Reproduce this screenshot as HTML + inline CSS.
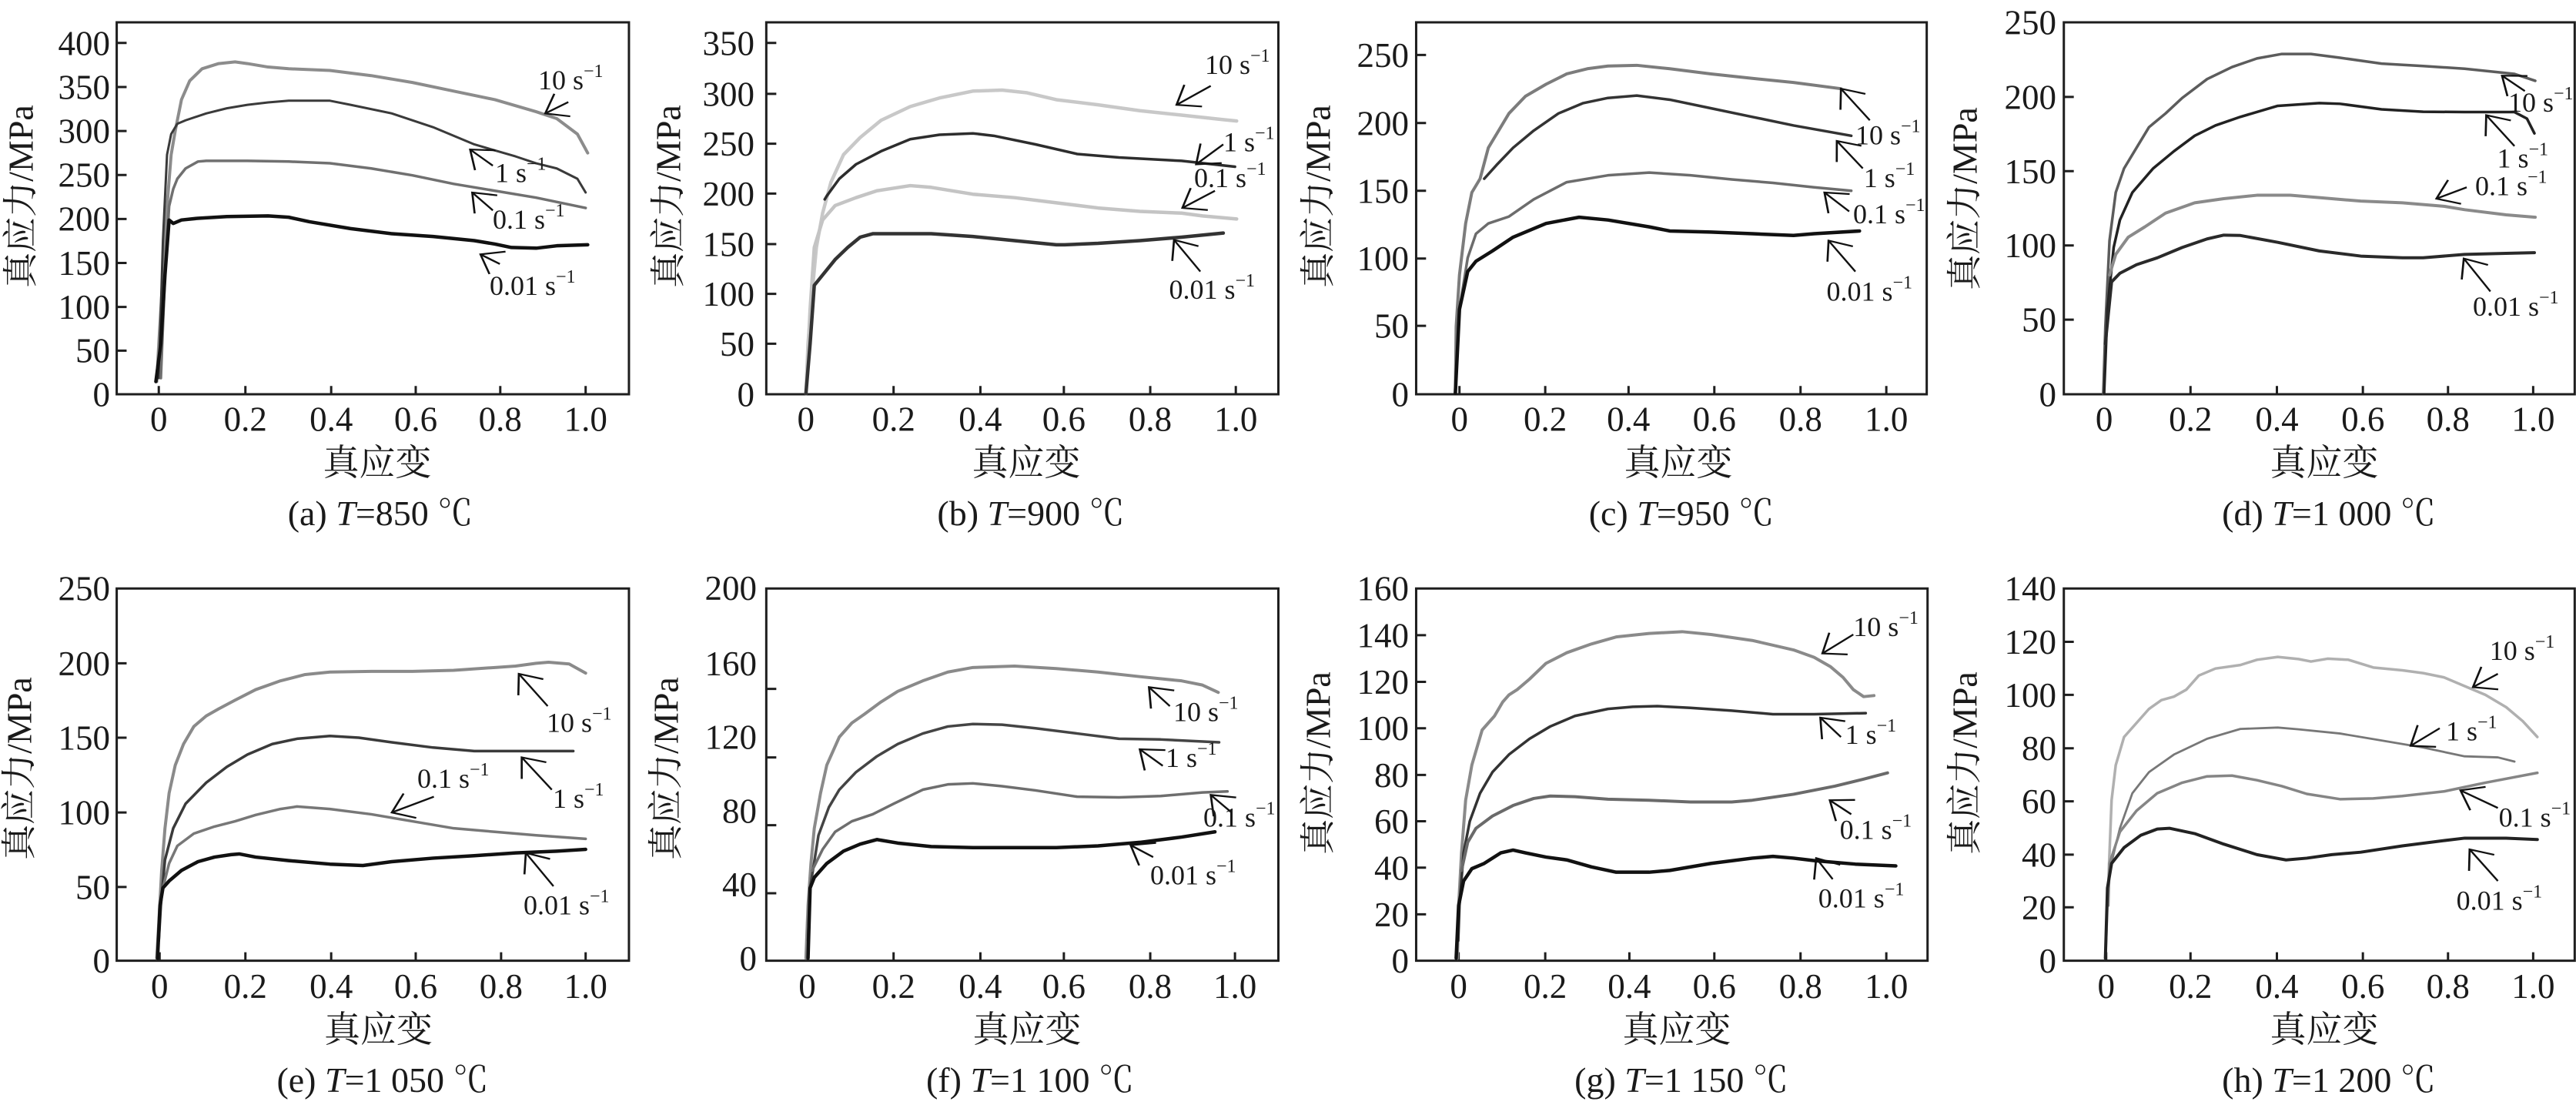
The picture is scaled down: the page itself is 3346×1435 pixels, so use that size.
<!DOCTYPE html>
<html><head><meta charset="utf-8">
<style>
html,body{margin:0;padding:0;background:#fff;}
svg{display:block;}
text{font-family:"Liberation Serif","Noto Serif CJK SC",serif;fill:#1a1a1a;}
.tk{font-size:45px;}
.lb{font-size:36px;}
.sp{font-size:24px;}
.cap{font-size:46px;}
.cn{font-size:47px;font-family:"Liberation Serif","Noto Serif CJK SC",serif;}
.yl{font-size:46px;}
.fr{fill:none;stroke:#1e1e1e;stroke-width:3;vector-effect:non-scaling-stroke;}
.tc{fill:none;stroke:#1e1e1e;stroke-width:3;vector-effect:non-scaling-stroke;}
.c{fill:none;vector-effect:non-scaling-stroke;stroke-linejoin:round;stroke-linecap:round;}
.ar{fill:none;stroke:#111;stroke-width:2.4;vector-effect:non-scaling-stroke;}
</style></head>
<body>
<svg width="3346" height="1435" viewBox="0 0 3346 1435" xmlns="http://www.w3.org/2000/svg">
<defs>
<marker id="ah" markerUnits="userSpaceOnUse" orient="auto" refX="0" refY="0" markerWidth="1" markerHeight="1" overflow="visible">
<path d="M48,-38 L0,0 L48,38" fill="none" stroke="#111" stroke-width="5"/>
</marker>
</defs>
<rect width="3346" height="1435" fill="#fff"/>

<!-- ===== Panel a ===== -->
<g transform="translate(0,0) scale(0.5357,0.4464)">
<rect class="fr" x="283" y="65" width="1242" height="1082"/>
<path class="tc" d="M283,125h24M283,253h24M283,381h24M283,509h24M283,637h24M283,765h24M283,893h24M283,1020h24M385,1147v-24M595,1147v-24M803,1147v-24M1008,1147v-24M1213,1147v-24M1420,1147v-24"/>
<polyline class="c" stroke="#8c8c8c" stroke-width="4" points="380,1110 385,1000 395,800 405,600 415,450 425,380 440,290 460,235 490,200 530,185 570,180 600,185 650,195 700,200 800,205 900,220 1000,240 1100,265 1200,290 1300,325 1350,345 1400,390 1425,445"/>
<polyline class="c" stroke="#3a3a3a" stroke-width="3" points="385,1100 395,700 405,450 415,390 430,360 450,350 500,330 550,315 600,305 650,298 700,293 800,293 850,305 950,330 1050,370 1150,420 1250,455 1300,475 1350,490 1400,520 1420,560"/>
<polyline class="c" stroke="#707070" stroke-width="3.5" points="390,1100 400,800 410,600 420,550 430,520 450,490 480,470 500,468 600,468 700,470 800,475 900,490 1000,510 1100,535 1200,555 1300,575 1420,605"/>
<polyline class="c" stroke="#111" stroke-width="4.5" points="378,1110 390,1000 400,800 410,640 420,650 440,640 480,635 550,630 650,628 700,632 750,645 850,665 950,680 1050,688 1150,700 1200,710 1240,720 1300,722 1350,715 1425,712"/>
<line class="ar" x1="1322" y1="330" x2="1378" y2="297" marker-start="url(#ah)"/>
<line class="ar" x1="1140" y1="435" x2="1195" y2="482" marker-start="url(#ah)"/>
<line class="ar" x1="1145" y1="560" x2="1195" y2="612" marker-start="url(#ah)"/>
<line class="ar" x1="1165" y1="740" x2="1212" y2="768" marker-start="url(#ah)"/>
</g>
<g class="tk" text-anchor="end" transform="translate(0,1.5)">
<text x="143" y="69.8">400</text>
<text x="143" y="127">350</text>
<text x="143" y="184">300</text>
<text x="143" y="241">250</text>
<text x="143" y="298">200</text>
<text x="143" y="355.5">150</text>
<text x="143" y="412.6">100</text>
<text x="143" y="469">50</text>
<text x="143" y="526">0</text>
</g>
<g class="tk" text-anchor="middle">
<text x="206.2" y="559.5">0</text>
<text x="318.7" y="559.5">0.2</text>
<text x="430.2" y="559.5">0.4</text>
<text x="540" y="559.5">0.6</text>
<text x="649.8" y="559.5">0.8</text>
<text x="760.7" y="559.5">1.0</text>
</g>
<g class="lb">
<text x="699" y="116">10 s<tspan class="sp" dy="-16">−1</tspan></text>
<text x="643" y="236.6">1 s<tspan class="sp" dy="-16">−1</tspan></text>
<text x="640" y="297">0.1 s<tspan class="sp" dy="-16">−1</tspan></text>
<text x="636" y="383">0.01 s<tspan class="sp" dy="-16">−1</tspan></text>
</g>
<text class="yl" text-anchor="middle" dominant-baseline="central" transform="translate(27,255) rotate(-90)">真应力/MPa</text>
<text class="cn" text-anchor="middle" x="490" y="617">真应变</text>
<text class="cap" text-anchor="middle" x="494" y="682">(a) <tspan font-style="italic">T</tspan>=850 ℃</text>

<!-- ===== Panel b ===== -->
<g transform="translate(830,0) scale(0.5421,0.4464)">
<rect class="fr" x="305" y="65" width="1227" height="1082"/>
<path class="tc" d="M305,125h24M305,273h24M305,418h24M305,563h24M305,710h24M305,855h24M305,1000h24M400,1147v-24M610,1147v-24M818,1147v-24M1018,1147v-24M1225,1147v-24M1430,1147v-24"/>
<polyline class="c" stroke="#c8c8c8" stroke-width="4.5" points="400,1145 405,1000 415,850 425,720 440,620 460,530 490,450 530,400 580,350 650,310 720,285 800,265 870,262 930,270 1000,290 1100,305 1200,322 1300,335 1400,348 1432,352"/>
<polyline class="c" stroke="#2d2d2d" stroke-width="3.5" points="445,580 450,570 480,520 520,478 580,440 650,405 720,392 800,388 850,395 950,420 1050,448 1150,458 1300,468 1428,485"/>
<polyline class="c" stroke="#c4c4c4" stroke-width="4.5" points="402,1100 410,900 420,720 440,640 470,598 520,575 570,555 650,540 700,545 800,565 900,575 1000,590 1100,605 1200,615 1300,620 1350,628 1432,637"/>
<polyline class="c" stroke="#333" stroke-width="4.5" points="400,1145 410,1000 420,830 440,800 470,755 500,720 530,690 560,680 600,680 700,680 800,688 900,700 1000,712 1020,712 1100,708 1200,700 1300,690 1400,678"/>
<line class="ar" x1="1288" y1="305" x2="1370" y2="250" marker-start="url(#ah)"/>
<line class="ar" x1="1335" y1="478" x2="1400" y2="420" marker-start="url(#ah)"/>
<line class="ar" x1="1302" y1="605" x2="1380" y2="555" marker-start="url(#ah)"/>
<line class="ar" x1="1282" y1="698" x2="1345" y2="790" marker-start="url(#ah)"/>
</g>
<g class="tk" text-anchor="end" transform="translate(0,1.5)">
<text x="980" y="69.8">350</text>
<text x="980" y="135.9">300</text>
<text x="980" y="200.6">250</text>
<text x="980" y="265.3">200</text>
<text x="980" y="331">150</text>
<text x="980" y="395.7">100</text>
<text x="980" y="460.4">50</text>
<text x="980" y="526">0</text>
</g>
<g class="tk" text-anchor="middle">
<text x="1046.8" y="559.5">0</text>
<text x="1160.7" y="559.5">0.2</text>
<text x="1273.4" y="559.5">0.4</text>
<text x="1381.9" y="559.5">0.6</text>
<text x="1494" y="559.5">0.8</text>
<text x="1605.2" y="559.5">1.0</text>
</g>
<g class="lb">
<text x="1565" y="96">10 s<tspan class="sp" dy="-16">−1</tspan></text>
<text x="1589" y="196.4">1 s<tspan class="sp" dy="-16">−1</tspan></text>
<text x="1551" y="243">0.1 s<tspan class="sp" dy="-16">−1</tspan></text>
<text x="1518.5" y="388">0.01 s<tspan class="sp" dy="-16">−1</tspan></text>
</g>
<text class="yl" text-anchor="middle" dominant-baseline="central" transform="translate(868,255) rotate(-90)">真应力/MPa</text>
<text class="cn" text-anchor="middle" x="1333" y="617">真应变</text>
<text class="cap" text-anchor="middle" x="1339" y="682">(b) <tspan font-style="italic">T</tspan>=900 ℃</text>

<!-- ===== Panel c ===== -->
<g transform="translate(1660,0) scale(0.5357,0.4464)">
<rect class="fr" x="335" y="65" width="1238" height="1082"/>
<path class="tc" d="M335,160h24M335,358h24M335,555h24M335,752h24M335,948h24M440,1147v-24M648,1147v-24M850,1147v-24M1058,1147v-24M1267,1147v-24M1475,1147v-24"/>
<polyline class="c" stroke="#7c7c7c" stroke-width="4" points="430,1145 432,950 440,800 455,650 470,560 490,520 510,430 530,390 560,330 600,280 650,245 700,215 750,200 800,192 870,190 950,200 1050,215 1150,228 1250,240 1365,258"/>
<polyline class="c" stroke="#333" stroke-width="3.5" points="500,520 530,480 570,430 620,380 680,330 740,300 800,285 870,278 950,290 1050,315 1150,340 1250,365 1390,395"/>
<polyline class="c" stroke="#6c6c6c" stroke-width="3.5" points="430,1145 440,900 460,750 480,680 510,650 560,630 620,580 700,530 800,510 900,502 1000,510 1100,522 1200,532 1300,545 1390,555"/>
<polyline class="c" stroke="#111" stroke-width="4.5" points="430,1145 440,900 460,790 480,760 520,730 570,690 650,650 730,632 800,640 900,660 950,672 1050,675 1150,680 1250,685 1300,680 1410,672"/>
<line class="ar" x1="1365" y1="258" x2="1435" y2="350" marker-start="url(#ah)"/>
<line class="ar" x1="1355" y1="410" x2="1418" y2="490" marker-start="url(#ah)"/>
<line class="ar" x1="1325" y1="560" x2="1385" y2="615" marker-start="url(#ah)"/>
<line class="ar" x1="1335" y1="700" x2="1400" y2="790" marker-start="url(#ah)"/>
</g>
<g class="tk" text-anchor="end" transform="translate(0,1.5)">
<text x="1830" y="85.4">250</text>
<text x="1830" y="173.8">200</text>
<text x="1830" y="261.8">150</text>
<text x="1830" y="349.7">100</text>
<text x="1830" y="437.2">50</text>
<text x="1830" y="526">0</text>
</g>
<g class="tk" text-anchor="middle">
<text x="1895.7" y="559.5">0</text>
<text x="2007.1" y="559.5">0.2</text>
<text x="2115.3" y="559.5">0.4</text>
<text x="2226.8" y="559.5">0.6</text>
<text x="2338.7" y="559.5">0.8</text>
<text x="2450.2" y="559.5">1.0</text>
</g>
<g class="lb">
<text x="2410" y="187.5">10 s<tspan class="sp" dy="-16">−1</tspan></text>
<text x="2420.7" y="243">1 s<tspan class="sp" dy="-16">−1</tspan></text>
<text x="2407" y="290">0.1 s<tspan class="sp" dy="-16">−1</tspan></text>
<text x="2372.5" y="390.6">0.01 s<tspan class="sp" dy="-16">−1</tspan></text>
</g>
<text class="yl" text-anchor="middle" dominant-baseline="central" transform="translate(1712,255) rotate(-90)">真应力/MPa</text>
<text class="cn" text-anchor="middle" x="2180" y="617">真应变</text>
<text class="cap" text-anchor="middle" x="2184" y="682">(c) <tspan font-style="italic">T</tspan>=950 ℃</text>

<!-- ===== Panel d ===== -->
<g transform="translate(2500,0) scale(0.5395,0.4464)">
<rect class="fr" x="335" y="65" width="1230" height="1082"/>
<path class="tc" d="M335,282h24M335,498h24M335,714h24M335,930h24M432,1147v-24M640,1147v-24M848,1147v-24M1055,1147v-24M1260,1147v-24M1465,1147v-24"/>
<polyline class="c" stroke="#5c5c5c" stroke-width="3.5" points="430,1145 435,950 445,700 460,560 480,490 510,430 540,370 580,330 620,285 680,230 740,195 800,170 860,157 930,157 1000,168 1100,185 1200,192 1300,200 1380,210 1420,215 1470,235"/>
<polyline class="c" stroke="#222" stroke-width="3.5" points="432,1145 440,900 455,720 470,640 500,560 550,490 600,440 650,395 700,365 760,340 850,308 950,300 1000,302 1100,318 1200,325 1300,326 1420,326 1450,345 1468,388"/>
<polyline class="c" stroke="#8a8a8a" stroke-width="4" points="445,800 460,740 490,690 530,660 580,620 650,590 720,578 800,568 880,568 950,575 1050,585 1150,590 1250,600 1300,610 1400,625 1470,632"/>
<polyline class="c" stroke="#2a2a2a" stroke-width="4" points="435,1000 450,820 470,795 510,770 560,750 620,720 680,695 720,684 760,685 850,705 950,730 1050,745 1150,750 1200,750 1300,740 1400,737 1468,735"/>
<line class="ar" x1="1390" y1="220" x2="1445" y2="265" marker-start="url(#ah)"/>
<line class="ar" x1="1352" y1="335" x2="1420" y2="425" marker-start="url(#ah)"/>
<line class="ar" x1="1232" y1="578" x2="1305" y2="545" marker-start="url(#ah)"/>
<line class="ar" x1="1298" y1="752" x2="1362" y2="848" marker-start="url(#ah)"/>
</g>
<g class="tk" text-anchor="end" transform="translate(0,1.5)">
<text x="2671" y="43">250</text>
<text x="2671" y="139.9">200</text>
<text x="2671" y="236.3">150</text>
<text x="2671" y="332.7">100</text>
<text x="2671" y="429.2">50</text>
<text x="2671" y="526">0</text>
</g>
<g class="tk" text-anchor="middle">
<text x="2733.1" y="559.5">0</text>
<text x="2845.3" y="559.5">0.2</text>
<text x="2957.5" y="559.5">0.4</text>
<text x="3069.2" y="559.5">0.6</text>
<text x="3179.8" y="559.5">0.8</text>
<text x="3290.4" y="559.5">1.0</text>
</g>
<g class="lb">
<text x="3258" y="145">10 s<tspan class="sp" dy="-16">−1</tspan></text>
<text x="3243.5" y="217.4">1 s<tspan class="sp" dy="-16">−1</tspan></text>
<text x="3215" y="253.6">0.1 s<tspan class="sp" dy="-16">−1</tspan></text>
<text x="3212" y="409.8">0.01 s<tspan class="sp" dy="-16">−1</tspan></text>
</g>
<text class="yl" text-anchor="middle" dominant-baseline="central" transform="translate(2552,258) rotate(-90)">真应力/MPa</text>
<text class="cn" text-anchor="middle" x="3019" y="617">真应变</text>
<text class="cap" text-anchor="middle" x="3025" y="682">(d) <tspan font-style="italic">T</tspan>=1 000 ℃</text>

<!-- ===== Panel e ===== -->
<g transform="translate(0,720) scale(0.5357,0.456)">
<rect class="fr" x="283" y="97" width="1242" height="1060"/>
<path class="tc" d="M283,310h24M283,522h24M283,735h24M283,947h24M387,1157v-24M595,1157v-24M803,1157v-24M1008,1157v-24M1215,1157v-24M1420,1157v-24"/>
<polyline class="c" stroke="#8a8a8a" stroke-width="4" points="380,1150 385,1050 392,900 400,780 410,680 425,600 445,540 470,490 500,460 530,440 570,415 620,385 680,360 740,342 800,335 900,333 1000,333 1100,330 1200,322 1250,318 1300,310 1330,307 1380,312 1420,338"/>
<polyline class="c" stroke="#3a3a3a" stroke-width="3.5" points="385,1100 390,1000 400,870 420,780 450,710 500,650 550,605 600,570 660,540 720,525 800,517 870,522 950,535 1050,550 1150,560 1250,560 1390,560"/>
<polyline class="c" stroke="#777" stroke-width="3.5" points="395,950 410,880 430,830 470,795 520,775 570,760 620,742 680,725 720,718 800,725 900,740 1000,760 1100,780 1200,790 1300,800 1420,810"/>
<polyline class="c" stroke="#111" stroke-width="4.5" points="382,1150 388,1000 395,950 410,930 440,900 480,875 520,862 560,855 580,853 620,862 700,872 800,882 880,886 950,875 1050,865 1150,858 1250,850 1350,845 1420,840"/>
<line class="ar" x1="1258" y1="340" x2="1328" y2="432" marker-start="url(#ah)"/>
<line class="ar" x1="1265" y1="578" x2="1338" y2="670" marker-start="url(#ah)"/>
<line class="ar" x1="950" y1="735" x2="1052" y2="690" marker-start="url(#ah)"/>
<line class="ar" x1="1275" y1="850" x2="1342" y2="945" marker-start="url(#ah)"/>
</g>
<g class="tk" text-anchor="end" transform="translate(0,1.5)">
<text x="143" y="778.2">250</text>
<text x="143" y="875.4">200</text>
<text x="143" y="972">150</text>
<text x="143" y="1069.2">100</text>
<text x="143" y="1165.8">50</text>
<text x="143" y="1261.6">0</text>
</g>
<g class="tk" text-anchor="middle">
<text x="207.3" y="1296">0</text>
<text x="318.7" y="1296">0.2</text>
<text x="430.2" y="1296">0.4</text>
<text x="540" y="1296">0.6</text>
<text x="650.9" y="1296">0.8</text>
<text x="760.7" y="1296">1.0</text>
</g>
<g class="lb">
<text x="710" y="950.3">10 s<tspan class="sp" dy="-16">−1</tspan></text>
<text x="718" y="1049">1 s<tspan class="sp" dy="-16">−1</tspan></text>
<text x="542" y="1023">0.1 s<tspan class="sp" dy="-16">−1</tspan></text>
<text x="680" y="1187.4">0.01 s<tspan class="sp" dy="-16">−1</tspan></text>
</g>
<text class="yl" text-anchor="middle" dominant-baseline="central" transform="translate(25,998) rotate(-90)">真应力/MPa</text>
<text class="cn" text-anchor="middle" x="491.5" y="1353">真应变</text>
<text class="cap" text-anchor="middle" x="497" y="1418">(e) <tspan font-style="italic">T</tspan>=1 050 ℃</text>

<!-- ===== Panel f ===== -->
<g transform="translate(830,720) scale(0.5421,0.456)">
<rect class="fr" x="305" y="97" width="1227" height="1060"/>
<path class="tc" d="M305,383h24M305,578h24M305,771h24M305,965h24M403,1157v-24M610,1157v-24M818,1157v-24M1018,1157v-24M1225,1157v-24M1428,1157v-24"/>
<polyline class="c" stroke="#8a8a8a" stroke-width="4" points="400,1150 405,1000 412,880 420,780 435,680 450,600 465,560 480,520 510,480 540,455 580,420 620,390 680,360 740,335 800,322 900,318 1000,325 1100,335 1200,348 1300,360 1350,372 1388,393"/>
<polyline class="c" stroke="#444" stroke-width="3.5" points="405,1100 410,950 430,800 455,720 480,670 520,620 570,575 620,540 680,510 740,490 800,483 870,485 950,495 1050,510 1150,525 1250,527 1390,535"/>
<polyline class="c" stroke="#6e6e6e" stroke-width="3.5" points="415,900 440,840 470,790 510,760 560,740 610,710 680,670 740,655 800,652 870,660 950,672 1050,690 1150,692 1250,688 1350,678 1410,675"/>
<polyline class="c" stroke="#111" stroke-width="4.5" points="405,1150 410,950 420,920 450,880 490,845 530,825 570,812 620,822 700,832 800,835 900,835 1000,835 1100,830 1200,820 1300,805 1380,790"/>
<line class="ar" x1="1222" y1="378" x2="1272" y2="432" marker-start="url(#ah)"/>
<line class="ar" x1="1200" y1="555" x2="1255" y2="602" marker-start="url(#ah)"/>
<line class="ar" x1="1370" y1="685" x2="1420" y2="735" marker-start="url(#ah)"/>
<line class="ar" x1="1178" y1="828" x2="1232" y2="862" marker-start="url(#ah)"/>
</g>
<g class="tk" text-anchor="end" transform="translate(0,1.5)">
<text x="983" y="777.3">200</text>
<text x="983" y="875.4">160</text>
<text x="983" y="971.1">120</text>
<text x="983" y="1066.9">80</text>
<text x="983" y="1162.6">40</text>
<text x="983" y="1258.4">0</text>
</g>
<g class="tk" text-anchor="middle">
<text x="1048.5" y="1296">0</text>
<text x="1160.7" y="1296">0.2</text>
<text x="1273.4" y="1296">0.4</text>
<text x="1381.9" y="1296">0.6</text>
<text x="1494" y="1296">0.8</text>
<text x="1604.1" y="1296">1.0</text>
</g>
<g class="lb">
<text x="1524" y="936.6">10 s<tspan class="sp" dy="-16">−1</tspan></text>
<text x="1514" y="995.9">1 s<tspan class="sp" dy="-16">−1</tspan></text>
<text x="1563" y="1073.4">0.1 s<tspan class="sp" dy="-16">−1</tspan></text>
<text x="1494" y="1148.6">0.01 s<tspan class="sp" dy="-16">−1</tspan></text>
</g>
<text class="yl" text-anchor="middle" dominant-baseline="central" transform="translate(865,998) rotate(-90)">真应力/MPa</text>
<text class="cn" text-anchor="middle" x="1334" y="1353">真应变</text>
<text class="cap" text-anchor="middle" x="1338" y="1418">(f) <tspan font-style="italic">T</tspan>=1 100 ℃</text>

<!-- ===== Panel g ===== -->
<g transform="translate(1660,720) scale(0.5357,0.456)">
<rect class="fr" x="335" y="97" width="1240" height="1060"/>
<path class="tc" d="M335,230h24M335,363h24M335,495h24M335,628h24M335,760h24M335,892h24M335,1025h24M438,1157v-24M648,1157v-24M852,1157v-24M1058,1157v-24M1267,1157v-24M1475,1157v-24"/>
<polyline class="c" stroke="#8a8a8a" stroke-width="4" points="435,1150 438,1000 445,850 455,700 470,600 485,540 495,500 510,480 525,460 545,420 560,400 580,385 610,355 650,310 700,280 760,255 820,235 900,225 980,220 1050,228 1150,245 1250,272 1300,293 1340,320 1370,350 1395,385 1420,405 1445,402"/>
<polyline class="c" stroke="#333" stroke-width="3.5" points="437,1100 440,1000 450,850 465,760 490,680 520,620 560,570 610,525 660,490 720,460 800,440 860,434 920,432 1000,437 1100,445 1200,455 1300,455 1425,452"/>
<polyline class="c" stroke="#6a6a6a" stroke-width="4" points="445,900 460,820 480,780 520,745 570,715 620,695 660,688 720,690 800,697 900,700 1000,705 1100,705 1150,700 1250,683 1350,660 1420,640 1478,622"/>
<polyline class="c" stroke="#111" stroke-width="4.5" points="432,1150 438,1000 450,930 470,895 500,880 540,850 570,842 600,850 650,862 700,870 760,890 820,905 900,905 950,900 1050,880 1150,865 1200,860 1250,865 1300,872 1400,882 1498,887"/>
<line class="ar" x1="1320" y1="282" x2="1395" y2="228" marker-start="url(#ah)"/>
<line class="ar" x1="1315" y1="465" x2="1365" y2="520" marker-start="url(#ah)"/>
<line class="ar" x1="1338" y1="700" x2="1390" y2="740" marker-start="url(#ah)"/>
<line class="ar" x1="1305" y1="865" x2="1345" y2="925" marker-start="url(#ah)"/>
</g>
<g class="tk" text-anchor="end" transform="translate(0,1.5)">
<text x="1830" y="778.2">160</text>
<text x="1830" y="838.9">140</text>
<text x="1830" y="899.5">120</text>
<text x="1830" y="959.7">100</text>
<text x="1830" y="1020.4">80</text>
<text x="1830" y="1080.6">60</text>
<text x="1830" y="1140.8">40</text>
<text x="1830" y="1201.4">20</text>
<text x="1830" y="1261.6">0</text>
</g>
<g class="tk" text-anchor="middle">
<text x="1894.6" y="1296">0</text>
<text x="2007.1" y="1296">0.2</text>
<text x="2116.4" y="1296">0.4</text>
<text x="2226.8" y="1296">0.6</text>
<text x="2338.7" y="1296">0.8</text>
<text x="2450.2" y="1296">1.0</text>
</g>
<g class="lb">
<text x="2407.3" y="825.8">10 s<tspan class="sp" dy="-16">−1</tspan></text>
<text x="2396.6" y="966.2">1 s<tspan class="sp" dy="-16">−1</tspan></text>
<text x="2389.6" y="1089.4">0.1 s<tspan class="sp" dy="-16">−1</tspan></text>
<text x="2361.8" y="1178.3">0.01 s<tspan class="sp" dy="-16">−1</tspan></text>
</g>
<text class="yl" text-anchor="middle" dominant-baseline="central" transform="translate(1712,991) rotate(-90)">真应力/MPa</text>
<text class="cn" text-anchor="middle" x="2178" y="1353">真应变</text>
<text class="cap" text-anchor="middle" x="2184" y="1418">(g) <tspan font-style="italic">T</tspan>=1 150 ℃</text>

<!-- ===== Panel h ===== -->
<g transform="translate(2500,720) scale(0.5395,0.456)">
<rect class="fr" x="335" y="97" width="1230" height="1060"/>
<path class="tc" d="M335,249h24M335,400h24M335,552h24M335,703h24M335,855h24M335,1005h24M437,1157v-24M640,1157v-24M848,1157v-24M1055,1157v-24M1260,1157v-24M1465,1157v-24"/>
<polyline class="c" stroke="#b0b0b0" stroke-width="3.5" points="435,1150 440,1000 445,850 450,700 460,600 480,520 510,480 540,440 570,415 600,405 630,385 660,345 700,325 760,315 800,300 850,292 900,298 930,305 970,297 1020,300 1080,322 1150,330 1200,338 1250,350 1300,375 1350,400 1400,435 1440,475 1475,520"/>
<polyline class="c" stroke="#777" stroke-width="2.8" points="440,1000 445,900 470,780 500,680 540,620 600,570 680,525 760,497 850,493 900,498 1000,510 1100,530 1200,550 1300,575 1380,578 1420,590"/>
<polyline class="c" stroke="#858585" stroke-width="3.5" points="442,1000 445,880 470,790 510,730 560,680 620,650 680,632 740,630 800,643 860,660 920,682 1000,697 1080,695 1150,688 1250,675 1350,650 1475,622"/>
<polyline class="c" stroke="#222" stroke-width="4" points="435,1150 440,950 450,880 480,835 520,800 560,782 590,780 650,795 720,825 800,855 870,870 920,865 980,855 1050,848 1150,830 1250,815 1300,808 1400,808 1475,812"/>
<line class="ar" x1="1320" y1="378" x2="1380" y2="340" marker-start="url(#ah)"/>
<line class="ar" x1="1170" y1="545" x2="1240" y2="495" marker-start="url(#ah)"/>
<line class="ar" x1="1290" y1="672" x2="1380" y2="722" marker-start="url(#ah)"/>
<line class="ar" x1="1312" y1="840" x2="1380" y2="930" marker-start="url(#ah)"/>
</g>
<g class="tk" text-anchor="end" transform="translate(0,1.5)">
<text x="2671" y="778.2">140</text>
<text x="2671" y="847.5">120</text>
<text x="2671" y="916.4">100</text>
<text x="2671" y="985.7">80</text>
<text x="2671" y="1054.6">60</text>
<text x="2671" y="1123.9">40</text>
<text x="2671" y="1192.3">20</text>
<text x="2671" y="1261.6">0</text>
</g>
<g class="tk" text-anchor="middle">
<text x="2735.8" y="1296">0</text>
<text x="2845.3" y="1296">0.2</text>
<text x="2957.5" y="1296">0.4</text>
<text x="3069.2" y="1296">0.6</text>
<text x="3179.8" y="1296">0.8</text>
<text x="3290.4" y="1296">1.0</text>
</g>
<g class="lb">
<text x="3233.7" y="856.8">10 s<tspan class="sp" dy="-16">−1</tspan></text>
<text x="3177" y="961.7">1 s<tspan class="sp" dy="-16">−1</tspan></text>
<text x="3245.6" y="1073.4">0.1 s<tspan class="sp" dy="-16">−1</tspan></text>
<text x="3190.6" y="1181.5">0.01 s<tspan class="sp" dy="-16">−1</tspan></text>
</g>
<text class="yl" text-anchor="middle" dominant-baseline="central" transform="translate(2552,991) rotate(-90)">真应力/MPa</text>
<text class="cn" text-anchor="middle" x="3019" y="1353">真应变</text>
<text class="cap" text-anchor="middle" x="3025" y="1418">(h) <tspan font-style="italic">T</tspan>=1 200 ℃</text>
</svg>
</body></html>
